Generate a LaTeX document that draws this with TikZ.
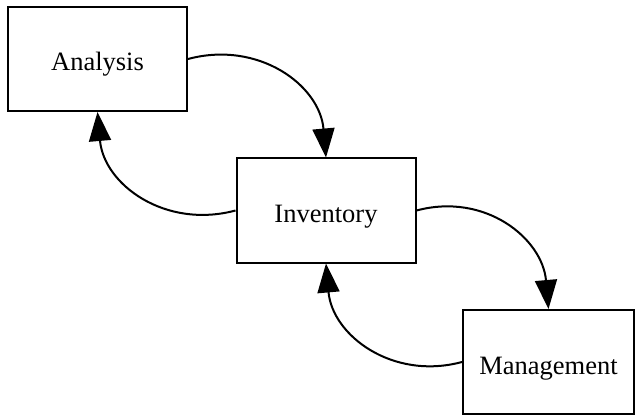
\documentclass[tikz,border=0pt]{standalone}
\usepackage{fontspec}
\setmainfont{Liberation Serif}
\usepackage{tikz}
\usetikzlibrary{positioning,arrows.meta}

\begin{document}
\begin{tikzpicture}[x=1pt,y=1pt,node distance=75.75pt and 114.25pt,on grid,
    box/.style={draw,line width=1pt,minimum width=89.5pt,minimum height=52pt,
      text height=12pt,text depth=0pt,font=\fontsize{13.25}{16}\selectfont}]
        \useasboundingbox (0,0) rectangle (317.5,-208);
        \node[box]                      (analysis)                                       at (48.75,-29.5) {Analysis};
        \node[box]                      (inventory)  [below right=of analysis]                              {Inventory};
        \node[box, minimum width=85.5pt] (management) [below right=75.75pt and 111.25pt of inventory]        {Management};
        \path[->, line width=1pt, >={Triangle[length=14.5pt,width=11pt]}, looseness=1.1]
        (analysis.east)    edge [out=15,  in=95]  (inventory.north)
        (inventory.west)   edge [out=195, in=-85] (analysis.south)
        (inventory.east)   edge [out=15,  in=95]  (management.north)
        (management.west)  edge [out=195, in=-85] (inventory.south);
      \end{tikzpicture}
\end{document}
